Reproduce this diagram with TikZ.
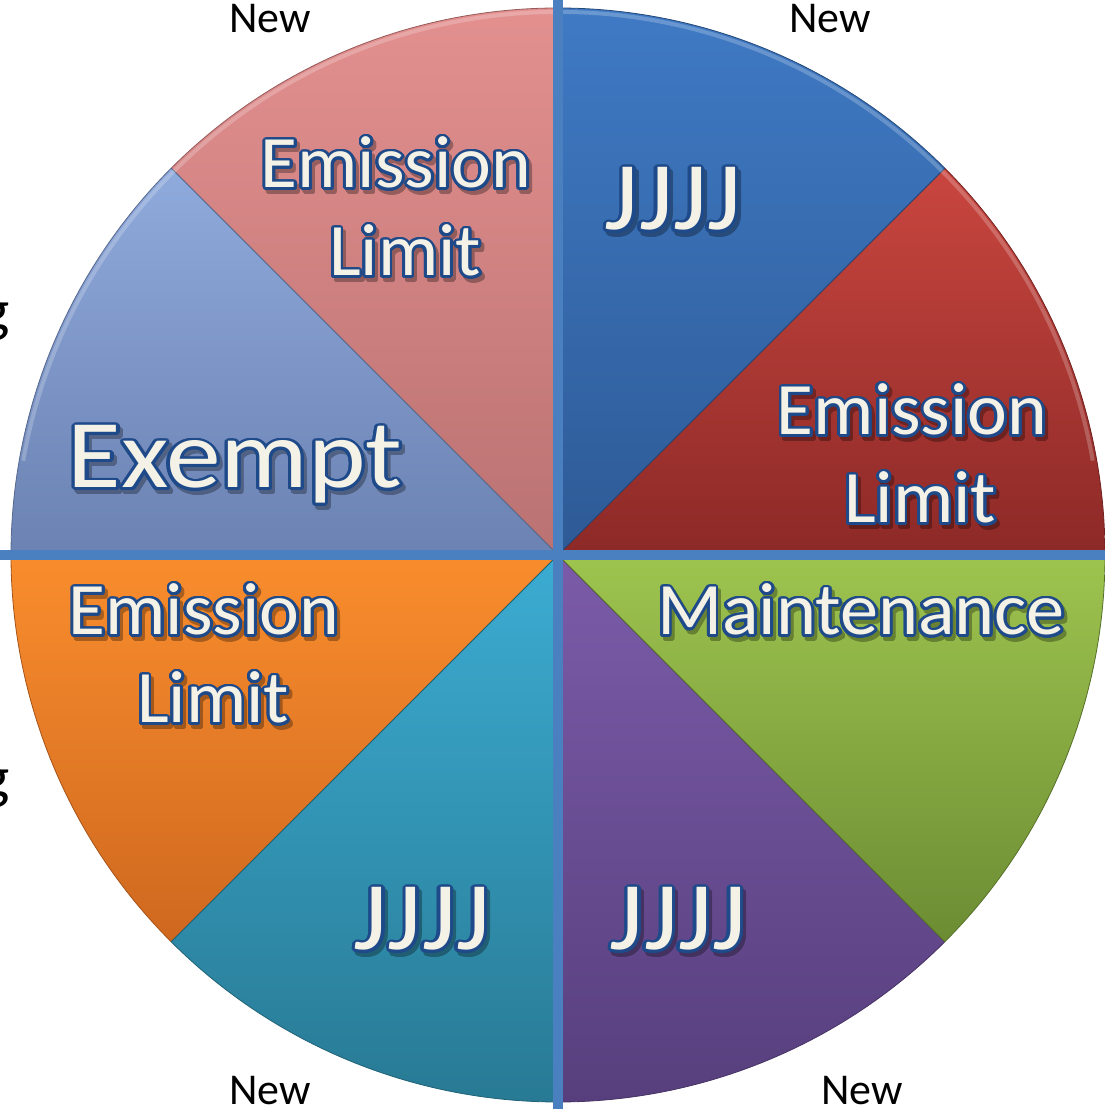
\documentclass[tikz,border=0pt]{standalone}
\usepackage{fontspec}
\setmainfont{Carlito}
\usepackage{graphicx}
\usepackage{contour}
\contourlength{2.8pt}
\contournumber{24}
\definecolor{cream}{HTML}{F4F1E6}
\definecolor{outl}{HTML}{1E4A8A}
\definecolor{barblue}{HTML}{4A7FC0}
\definecolor{pinkT}{HTML}{E3908F}\definecolor{pinkB}{HTML}{BA7272}
\definecolor{lbT}{HTML}{8FAADC}\definecolor{lbB}{HTML}{6B82B2}
\definecolor{dbT}{HTML}{3F7AC4}\definecolor{dbB}{HTML}{2E5A96}
\definecolor{redT}{HTML}{C9463F}\definecolor{redB}{HTML}{8C2927}
\definecolor{grT}{HTML}{9EC44F}\definecolor{grB}{HTML}{6C8C33}
\definecolor{puT}{HTML}{7B5BA9}\definecolor{puB}{HTML}{573F7D}
\definecolor{tlT}{HTML}{3CACD2}\definecolor{tlB}{HTML}{287A94}
\definecolor{orT}{HTML}{F98D2D}\definecolor{orB}{HTML}{CF681F}
\tikzset{
  wedge/.style 2 args={top color=#1, bottom color=#2, draw=#2!80!black, line width=0.8pt},
  lbl/.style={font=\fontsize{74}{88}\selectfont, text=cream, inner sep=0pt, anchor=base},
  biglbl/.style={font=\fontsize{97}{110}\selectfont, text=cream, inner sep=0pt, anchor=base},
  newlbl/.style={font=\fontsize{44}{50}\selectfont, text=black, inner sep=0pt, anchor=base},
  glbl/.style={font=\fontsize{60}{70}\selectfont, text=black, inner sep=0pt, anchor=base east},
  bar/.style={fill=barblue}
}
\newcommand{\shd}[3]{\node[#1, text=black, xshift=3pt, yshift=-4pt] at #2 {#3};}
\newcommand{\ot}[2]{\scalebox{#1}[1]{\contour{outl}{#2}}}
\newcommand{\st}[2]{\scalebox{#1}[1]{\contour{black}{#2}}}
\begin{document}
\begin{tikzpicture}[x=1pt,y=1pt]
\useasboundingbox (0,0) rectangle (1105,1109);
\coordinate (C) at (558,554);
% wedges
\path[wedge={redT}{redB}]   (C) -- ++(0:547pt)   arc[start angle=0,  end angle=45, radius=547pt] -- cycle;
\path[wedge={dbT}{dbB}]     (C) -- ++(45:547pt)  arc[start angle=45, end angle=90, radius=547pt] -- cycle;
\path[wedge={pinkT}{pinkB}] (C) -- ++(90:547pt)  arc[start angle=90, end angle=135, radius=547pt] -- cycle;
\path[wedge={lbT}{lbB}]     (C) -- ++(135:547pt) arc[start angle=135,end angle=180, radius=547pt] -- cycle;
\path[wedge={orT}{orB}]     (C) -- ++(180:547pt) arc[start angle=180,end angle=225, radius=547pt] -- cycle;
\path[wedge={tlT}{tlB}]     (C) -- ++(225:547pt) arc[start angle=225,end angle=270, radius=547pt] -- cycle;
\path[wedge={puT}{puB}]     (C) -- ++(270:547pt) arc[start angle=270,end angle=315, radius=547pt] -- cycle;
\path[wedge={grT}{grB}]     (C) -- ++(315:547pt) arc[start angle=315,end angle=360, radius=547pt] -- cycle;
% rim highlight
\draw[white, opacity=0.22, line width=4pt] (C) ++(10:543pt) arc[start angle=10, end angle=170, radius=543pt];
% cross bars
\fill[bar] (553,0) rectangle (563,1109);
\fill[bar] (0,549) rectangle (1105,559);
% shadows
\begin{scope}[transparency group, opacity=0.3]
\shd{lbl}{(396,921)}{\st{1.02}{Emission}}
\shd{lbl}{(405,833)}{\st{1.02}{Limit}}
\shd{lbl}{(912,674)}{\st{1.02}{Emission}}
\shd{lbl}{(920,586)}{\st{1.02}{Limit}}
\shd{lbl}{(204,474)}{\st{1.02}{Emission}}
\shd{lbl}{(213,386)}{\st{1.02}{Limit}}
\shd{lbl}{(861,474)}{\st{1.03}{Maintenance}}
\shd{biglbl}{(235,621)}{\st{1.13}{Exempt}}
\shd{biglbl}{(673,879)}{\st{1.10}{JJJJ}}
\shd{biglbl}{(422,159)}{\st{1.10}{JJJJ}}
\shd{biglbl}{(678,159)}{\st{1.10}{JJJJ}}
\end{scope}
% labels
\node[lbl] (pinkA) at (396,921) {\ot{1.02}{Emission}};
\node[lbl] (pinkB) at (405,833) {\ot{1.02}{Limit}};
\node[lbl] (redA) at (912,674) {\ot{1.02}{Emission}};
\node[lbl] (redB) at (920,586) {\ot{1.02}{Limit}};
\node[lbl] (orA) at (204,474) {\ot{1.02}{Emission}};
\node[lbl] (orB) at (213,386) {\ot{1.02}{Limit}};
\node[lbl] (green) at (861,474) {\ot{1.03}{Maintenance}};
\node[biglbl] (exempt) at (235,621) {\ot{1.13}{Exempt}};
\node[biglbl] (blueJ) at (673,879) {\ot{1.10}{JJJJ}};
\node[biglbl] (tealJ) at (422,159) {\ot{1.10}{JJJJ}};
\node[biglbl] (purpJ) at (678,159) {\ot{1.10}{JJJJ}};
% outer labels
\node[newlbl] (newTL) at (270,1076) {New};
\node[newlbl] (newTR) at (830,1076) {New};
\node[newlbl] (newBL) at (270,5) {New};
\node[newlbl] (newBR) at (862,5) {New};
\node[glbl] (gU) at (10,778) {g};
\node[glbl] (gL) at (10,311) {g};
\end{tikzpicture}
\end{document}
